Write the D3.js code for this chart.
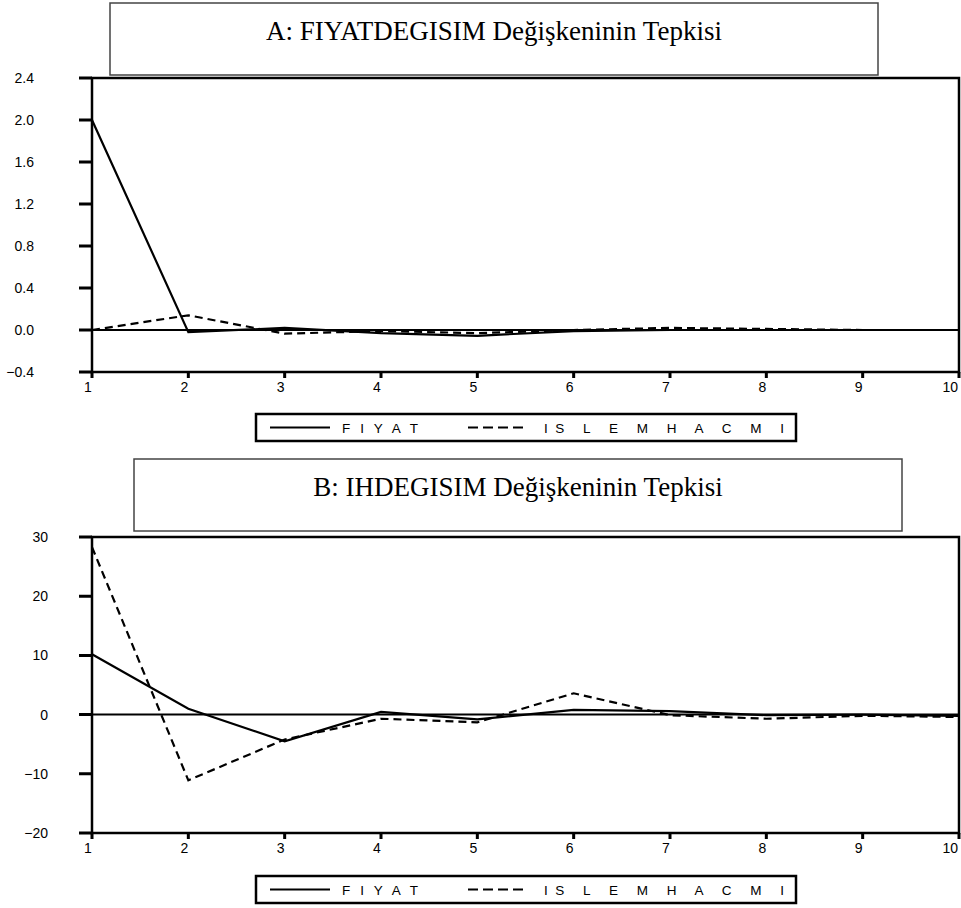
<!DOCTYPE html>
<html>
<head>
<meta charset="utf-8">
<script src="https://cdn.jsdelivr.net/npm/d3@7"></script>
<style>
  body { margin: 0; background: #fff; }
  svg { display: block; }
</style>
</head>
<body>
<svg id="chart" width="961" height="908" xmlns="http://www.w3.org/2000/svg"></svg>
<script>
// ---- data ----
const periods = [1, 2, 3, 4, 5, 6, 7, 8, 9, 10];
const seriesNames = ["F I Y A T", "IS L E M H A C M I"];
const titleA = "A: FIYATDEGISIM Değişkeninin Tepkisi";
const titleB = "B: IHDEGISIM Değişkeninin Tepkisi";
const fiyatA = [2.0, -0.02, 0.02, -0.03, -0.055, -0.01, 0.0, 0.0, 0.0, 0.0];
const islemA = [0.0, 0.14, -0.035, -0.01, -0.03, 0.0, 0.02, 0.01, 0.0, 0.0];
const fiyatB = [10.2, 1.0, -4.5, 0.45, -0.8, 0.8, 0.6, -0.1, 0.0, -0.2];
const islemB = [28.3, -11.1, -4.2, -0.7, -1.3, 3.6, -0.1, -0.7, -0.2, -0.4];
const ticksA = [-0.4, 0.0, 0.4, 0.8, 1.2, 1.6, 2.0, 2.4];
const ticksB = [-20, -10, 0, 10, 20, 30];

const svg = d3.select("#chart");
const sans = "'Liberation Sans', Arial, sans-serif";
const serif = "'Liberation Serif', 'Times New Roman', serif";

function panel(cfg) {
  const g = svg.append("g");
  const x = d3.scaleLinear().domain([1, 10]).range([cfg.left, cfg.right]);
  const y = d3.scaleLinear().domain(cfg.domain).range([cfg.bottom, cfg.top]);

  // title box
  g.append("rect")
    .attr("x", cfg.tbox[0]).attr("y", cfg.tbox[1])
    .attr("width", cfg.tbox[2] - cfg.tbox[0]).attr("height", cfg.tbox[3] - cfg.tbox[1])
    .attr("fill", "#fff").attr("stroke", "#444").attr("stroke-width", 1.5);
  g.append("text")
    .attr("x", (cfg.tbox[0] + cfg.tbox[2]) / 2).attr("y", cfg.tbox[1] + 37)
    .attr("text-anchor", "middle")
    .attr("font-family", serif).attr("font-size", 27)
    .text(cfg.title);

  // tick marks as one path
  const p = d3.path();
  cfg.ticks.forEach(d => { p.moveTo(cfg.left - 13, y(d)); p.lineTo(cfg.left, y(d)); });
  periods.forEach(d => { p.moveTo(x(d), cfg.bottom); p.lineTo(x(d), cfg.bottom + 6); });
  g.append("path").attr("d", p.toString())
    .attr("fill", "none").attr("stroke", "#000").attr("stroke-width", 3);

  g.selectAll("text.ylab").data(cfg.ticks).join("text").attr("class", "ylab")
    .attr("x", cfg.ylabX).attr("y", d => y(d)).attr("dy", "0.35em")
    .attr("text-anchor", "end")
    .attr("font-family", sans).attr("font-size", 14).attr("fill", "#000")
    .text(cfg.fmt);

  g.selectAll("text.xlab").data(periods).join("text").attr("class", "xlab")
    .attr("x", d => d === 10 ? x(d) - 1 : x(d) - 4)
    .attr("y", cfg.bottom + 20)
    .attr("text-anchor", d => d === 10 ? "end" : "middle")
    .attr("font-family", sans).attr("font-size", 14).attr("fill", "#000")
    .text(d => d);

  // frame
  g.append("rect")
    .attr("x", cfg.left).attr("y", cfg.top)
    .attr("width", cfg.right - cfg.left).attr("height", cfg.bottom - cfg.top)
    .attr("fill", "none").attr("stroke", "#000").attr("stroke-width", 2.5);

  // zero line
  g.append("line")
    .attr("x1", cfg.left).attr("x2", cfg.right)
    .attr("y1", y(0)).attr("y2", y(0))
    .attr("stroke", "#000").attr("stroke-width", 2);

  const line = d3.line().x((d, i) => x(periods[i])).y(d => y(d));
  g.append("path").datum(cfg.s2).attr("d", line)
    .attr("fill", "none").attr("stroke", "#000").attr("stroke-width", 2.2)
    .attr("stroke-dasharray", "8,5");
  g.append("path").datum(cfg.s1).attr("d", line)
    .attr("fill", "none").attr("stroke", "#000").attr("stroke-width", 2.2);

  // legend
  const L = cfg.legend;
  g.append("rect").attr("x", 256).attr("y", L).attr("width", 540).attr("height", 27)
    .attr("fill", "#fff").attr("stroke", "#000").attr("stroke-width", 2.5);
  const ly = L + 13.5;
  g.append("line").attr("x1", 270).attr("x2", 330).attr("y1", ly).attr("y2", ly)
    .attr("stroke", "#000").attr("stroke-width", 2.2);
  g.append("text").attr("x", 342).attr("y", ly + 5)
    .attr("font-family", sans).attr("font-size", 13.5)
    .attr("textLength", 76).attr("lengthAdjust", "spacing")
    .text(seriesNames[0]);
  g.append("line").attr("x1", 468).attr("x2", 528).attr("y1", ly).attr("y2", ly)
    .attr("stroke", "#000").attr("stroke-width", 2.2).attr("stroke-dasharray", "10,5");
  g.append("text").attr("x", 544).attr("y", ly + 5)
    .attr("font-family", sans).attr("font-size", 13.5)
    .attr("textLength", 240).attr("lengthAdjust", "spacing")
    .text(seriesNames[1]);
}

panel({
  title: titleA, tbox: [110, 3, 878, 75],
  left: 92, right: 959, top: 78, bottom: 372,
  domain: [-0.4, 2.4], ticks: ticksA, fmt: d3.format(".1f"), ylabX: 34,
  s1: fiyatA, s2: islemA, legend: 414
});
panel({
  title: titleB, tbox: [134, 459, 902, 531],
  left: 92, right: 959, top: 537, bottom: 833,
  domain: [-20, 30], ticks: ticksB, fmt: d3.format("d"), ylabX: 48,
  s1: fiyatB, s2: islemB, legend: 876
});
</script>
</body>
</html>
